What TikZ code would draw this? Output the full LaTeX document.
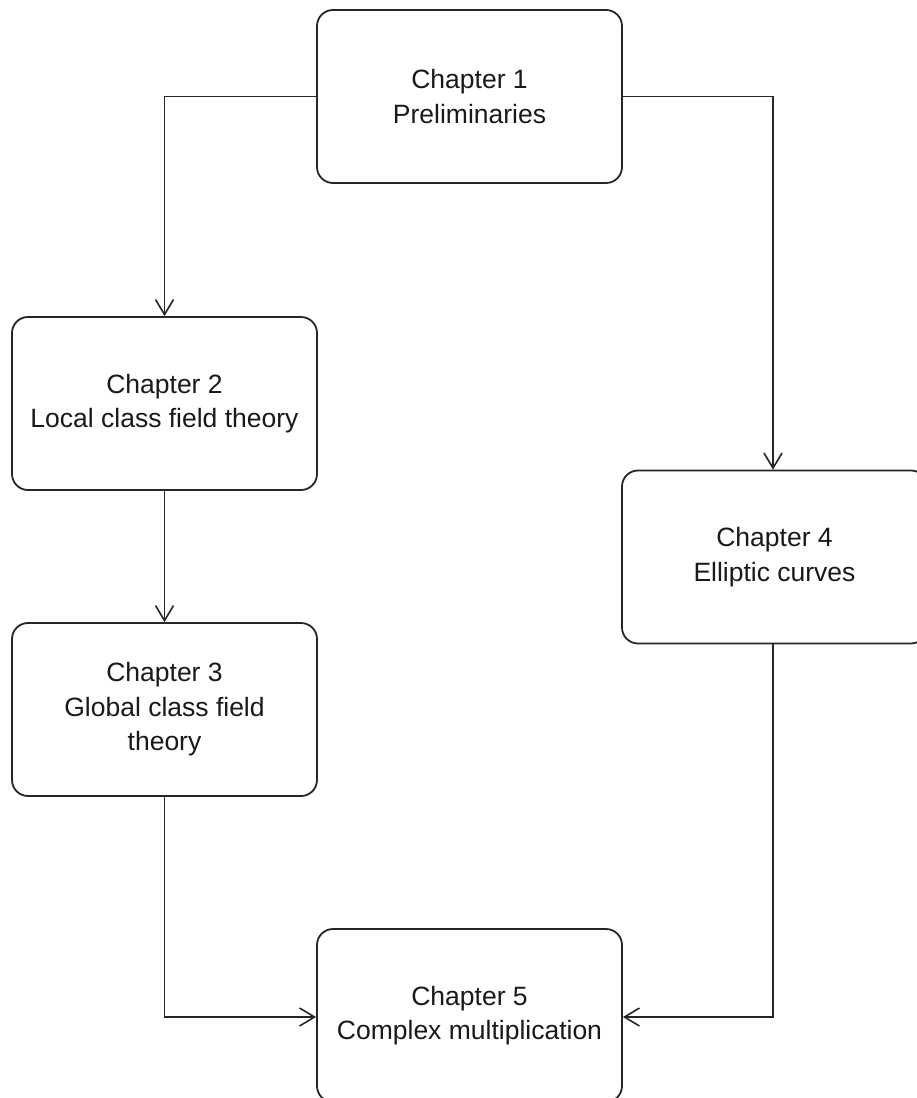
\documentclass[tikz,border=0pt]{standalone}
\usepackage{fontspec}
\setmainfont{Liberation Sans}
\usetikzlibrary{arrows.meta}
\begin{document}
\begin{tikzpicture}[x=1pt,y=-1pt,
  chbox/.style={draw=black!85, line width=1.8pt, rounded corners=16pt,
    minimum width=305pt, minimum height=173pt, align=center, inner sep=0pt,
    font=\fontsize{26.5}{34.5}\selectfont, text=black!90},
  conn/.style={draw=black!85, line width=1.6pt,
    -{Straight Barb[length=15pt,width=18pt,line width=1.6pt]}}]
\useasboundingbox (0,0) rectangle (917,1098);
\begin{scope}
\clip (0,0) rectangle (917,1098);
\node[chbox] (c1) at (469.5,96.5) {Chapter 1\\Preliminaries};
\node[chbox] (c2) at (164.5,403.5) {Chapter 2\\Local class field theory};
\node[chbox] (c3) at (164.5,709.5) {Chapter 3\\Global class field\\theory};
\node[chbox] (c4) at (774.5,557) {Chapter 4\\Elliptic curves};
\node[chbox] (c5) at (469.5,1015.5) {Chapter 5\\Complex multiplication};
\coordinate (p2) at (773,96.5);
\coordinate (p4) at (773,1017);
\draw[conn] (c1.west) -| (c2.north);
\draw[conn] (c1.east) -- (p2) -- (c4.north -| p2);
\draw[conn] (c2.south) -- (c3.north);
\draw[conn] (c3.south) |- (c5.west |- p4);
\draw[conn] (c4.south -| p4) -- (p4) -- (c5.east |- p4);
\end{scope}
\end{tikzpicture}
\end{document}
